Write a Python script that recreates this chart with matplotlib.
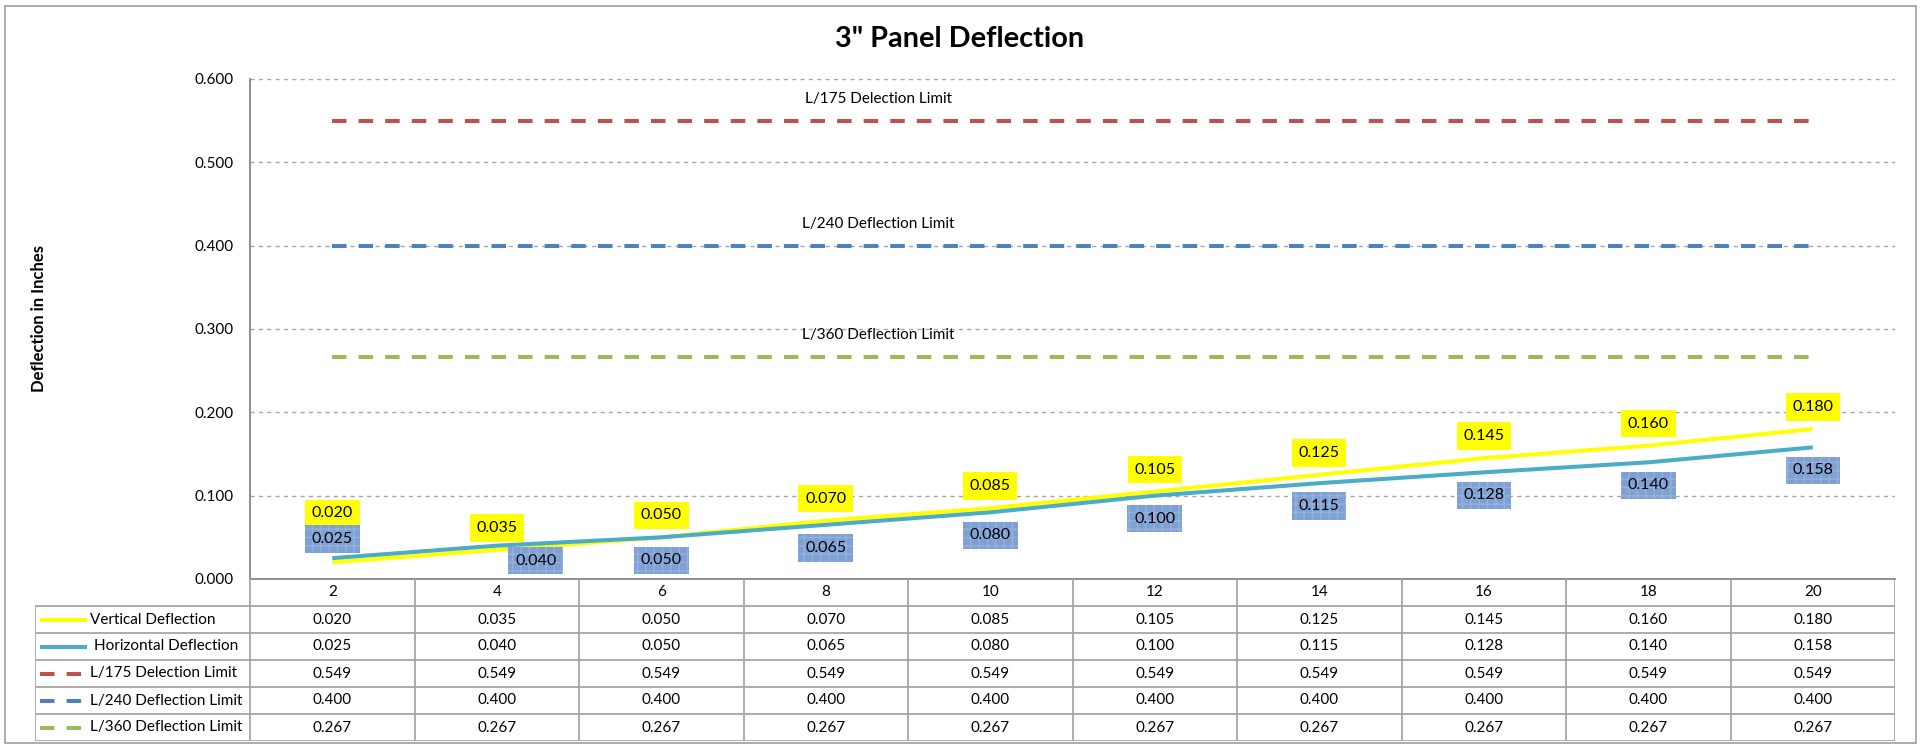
import matplotlib
matplotlib.use("Agg")
import matplotlib.pyplot as plt
from matplotlib.patches import Rectangle

plt.rcParams["font.family"] = ["Lato", "DejaVu Sans"]

# ---------------------------------------------------------------------------
# Data
# ---------------------------------------------------------------------------
spans = ["2", "4", "6", "8", "10", "12", "14", "16", "18", "20"]
vertical = [0.020, 0.035, 0.050, 0.070, 0.085, 0.105, 0.125, 0.145, 0.160, 0.180]
horizontal = [0.025, 0.040, 0.050, 0.065, 0.080, 0.100, 0.115, 0.128, 0.140, 0.158]
l175 = [0.549] * 10
l240 = [0.400] * 10
l360 = [0.267] * 10

series_names = ["Vertical Deflection", "Horizontal Deflection",
                "L/175 Delection Limit", "L/240 Deflection Limit",
                "L/360 Deflection Limit"]
limit_labels = ["L/175 Delection Limit", "L/240 Deflection Limit",
                "L/360 Deflection Limit"]

# ---------------------------------------------------------------------------
# Style
# ---------------------------------------------------------------------------
W, H, DPI = 1920, 747, 100
YELLOW = "#FFFF00"
TEAL = "#4BACC6"
RED = "#C0504D"
BLUE = "#4F81BD"
GREEN = "#9BBB59"
GRID = "#A6A6A6"
AXIS = "#868686"
FS = 11
FS_LBL = 11.5
LW = 2.9
DASH = (3.6, 3.0)

# label offsets (pixels) for data labels: (dx, dy)
V_OFF = [(0, 49)] + [(0, 22)] * 9
H_OFF = [(0, 19), (39, -15)] + [(0, -23)] * 8

px = 72.0 / DPI   # points per pixel


def main():
    fig = plt.figure(figsize=(W / DPI, H / DPI), dpi=DPI)

    # main chart area
    left, right, top, bottom = 250, 1895, 79, 579
    ax = fig.add_axes([left / W, (H - bottom) / H,
                       (right - left) / W, (bottom - top) / H])
    x = list(range(len(spans)))

    for y in [0.1, 0.2, 0.3, 0.4, 0.5, 0.6]:
        ax.axhline(y, color=GRID, lw=1.0, ls=(0, (3, 3)), zorder=1)

    for vals, col in [(l175, RED), (l240, BLUE), (l360, GREEN)]:
        ax.plot(x, vals, color=col, lw=LW, ls=(0, DASH), zorder=3)

    ax.plot(x, vertical, color=YELLOW, lw=LW, solid_capstyle="butt", zorder=4)
    ax.plot(x, horizontal, color=TEAL, lw=LW, solid_capstyle="butt", zorder=4)

    for vals, txt in zip([l175, l240, l360], limit_labels):
        ax.annotate(txt, (3.32, vals[0]), xytext=(0, 22 * px),
                    textcoords="offset points", ha="center", va="center",
                    fontsize=FS, color="black")

    for i in x:
        ax.annotate(f"{vertical[i]:.3f}", (i, vertical[i]),
                    xytext=(V_OFF[i][0] * px, V_OFF[i][1] * px),
                    textcoords="offset points", ha="center", va="center",
                    fontsize=FS_LBL, zorder=6,
                    bbox=dict(boxstyle="square,pad=0.42", fc=YELLOW, ec="none"))
        ax.annotate(f"{horizontal[i]:.3f}", (i, horizontal[i]),
                    xytext=(H_OFF[i][0] * px, H_OFF[i][1] * px),
                    textcoords="offset points", ha="center", va="center",
                    fontsize=FS_LBL, zorder=6,
                    bbox=dict(boxstyle="square,pad=0.42", fc="#7EA0D2",
                              ec="#93B2DE", lw=0, hatch="++"))

    ax.set_xlim(-0.5, len(spans) - 0.5)
    ax.set_ylim(0, 0.6)
    ax.set_yticks([0, 0.1, 0.2, 0.3, 0.4, 0.5, 0.6])
    ax.set_yticklabels([f"{v:.3f}" for v in ax.get_yticks()])
    ax.set_xticks([])
    ax.tick_params(axis="y", length=0, pad=12, labelsize=FS)
    for s in ["top", "right"]:
        ax.spines[s].set_visible(False)
    for s in ["left", "bottom"]:
        ax.spines[s].set_color(AXIS)
        ax.spines[s].set_linewidth(1.3)

    # data table below the axis
    t_left, t_bottom = 35, 741
    col_w = (right - left) / len(spans)
    x0 = -0.5 - (left - t_left) / col_w
    tax = fig.add_axes([t_left / W, (H - t_bottom) / H,
                        (right - t_left) / W, (t_bottom - bottom) / H])
    tax.set_xlim(x0, len(spans) - 0.5)
    tax.set_ylim(5.5, -0.5)
    tax.axis("off")

    lc = dict(color=GRID, lw=1.3, solid_capstyle="butt")
    for r in range(1, 7):
        tax.plot([x0, len(spans) - 0.5], [r - 0.5, r - 0.5], **lc)
    tax.plot([x0, x0], [0.5, 5.5], **lc)
    for k in range(len(spans) + 1):
        tax.plot([k - 0.5, k - 0.5], [-0.5, 5.5], **lc)

    for i, s in enumerate(spans):
        tax.text(i, 0, s, ha="center", va="center", fontsize=FS)

    rows = [vertical, horizontal, l175, l240, l360]
    styles = [(YELLOW, "-"), (TEAL, "-"), (RED, (0, DASH)),
              (BLUE, (0, DASH)), (GREEN, (0, DASH))]
    for r, (vals, name, (col, ls)) in enumerate(zip(rows, series_names, styles), 1):
        for i, v in enumerate(vals):
            tax.text(i, r, f"{v:.3f}", ha="center", va="center", fontsize=FS)
        sx0 = x0 + 5 / col_w
        sx1 = x0 + 52 / col_w
        tax.plot([sx0, sx1], [r, r], color=col, lw=LW, ls=ls,
                 solid_capstyle="butt")
        tx = x0 + (59 if r == 2 else 55) / col_w
        tax.text(tx, r, name, ha="left", va="center", fontsize=FS)

    fig.text(39 / W, (H - 319) / H, "Deflection in Inches", rotation=90,
             ha="center", va="center", fontsize=12, fontweight="bold")
    fig.text(960 / W, (H - 39) / H, '3" Panel Deflection', ha="center",
             va="center", fontsize=20.8, fontweight="bold")

    fig.patches.append(Rectangle((5 / W, 4 / H), (1916 - 5) / W, (742 - 5) / H,
                                 transform=fig.transFigure, fill=False,
                                 ec=GRID, lw=1.3))

    fig.savefig("out.png", dpi=DPI)
    plt.close(fig)


if __name__ == "__main__":
    main()
